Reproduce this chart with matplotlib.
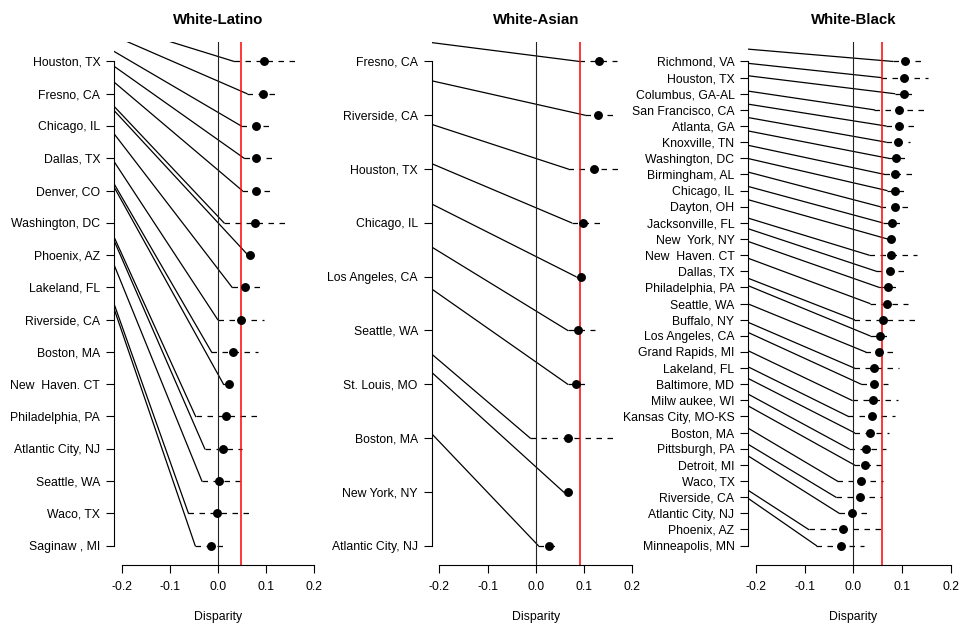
import numpy as np
import matplotlib
matplotlib.use("Agg")
import matplotlib.pyplot as plt

plt.rcParams['font.family'] = ['Liberation Sans', 'DejaVu Sans']

# White-Latino
latino_cities = ["Houston, TX", "Fresno, CA", "Chicago, IL", "Dallas, TX", "Denver, CO",
                 "Washington, DC", "Phoenix, AZ", "Lakeland, FL", "Riverside, CA", "Boston, MA",
                 "New  Haven. CT", "Philadelphia, PA", "Atlantic City, NJ", "Seattle, WA",
                 "Waco, TX", "Saginaw , MI"]
latino_est = [0.096, 0.095, 0.080, 0.080, 0.080, 0.078, 0.068, 0.057, 0.049, 0.032,
              0.023, 0.017, 0.012, 0.003, -0.001, -0.014]
latino_lo = [0.034, 0.061, 0.049, 0.055, 0.051, 0.013, 0.063, 0.030, 0.000, -0.013,
             0.012, -0.046, -0.027, -0.033, -0.061, -0.047]
latino_hi = [0.168, 0.120, 0.110, 0.113, 0.113, 0.146, 0.075, 0.088, 0.096, 0.083,
             0.030, 0.089, 0.051, 0.046, 0.074, 0.010]
latino_start = [-1.15, -0.79, -0.31, 0.15, 0.64, 1.39, 1.52, 2.24, 3.10, 3.79,
                3.89, 5.44, 5.55, 6.30, 7.51, 7.66]
latino_mean = 0.048

# White-Asian
asian_cities = ["Fresno, CA", "Riverside, CA", "Houston, TX", "Chicago, IL", "Los Angeles, CA",
                "Seattle, WA", "St. Louis, MO", "Boston, MA", "New York, NY", "Atlantic City, NJ"]
asian_est = [0.131, 0.129, 0.120, 0.098, 0.093, 0.088, 0.084, 0.067, 0.067, 0.027]
asian_lo = [0.090, 0.102, 0.067, 0.074, 0.083, 0.066, 0.066, -0.012, 0.057, 0.005]
asian_hi = [0.169, 0.159, 0.181, 0.134, 0.098, 0.122, 0.104, 0.160, 0.072, 0.045]
asian_start = [-0.35, 0.36, 1.17, 1.90, 2.65, 3.45, 4.23, 5.44, 5.78, 6.92]
asian_mean = 0.092

# White-Black
black_cities = ["Richmond, VA", "Houston, TX", "Columbus, GA-AL", "San Francisco, CA",
                "Atlanta, GA", "Knoxville, TN", "Washington, DC", "Birmingham, AL",
                "Chicago, IL", "Dayton, OH", "Jacksonville, FL", "New  York, NY",
                "New  Haven. CT", "Dallas, TX", "Philadelphia, PA", "Seattle, WA",
                "Buffalo, NY", "Los Angeles, CA", "Grand Rapids, MI", "Lakeland, FL",
                "Baltimore, MD", "Milw aukee, WI", "Kansas City, MO-KS", "Boston, MA",
                "Pittsburgh, PA", "Detroit, MI", "Waco, TX", "Riverside, CA",
                "Atlantic City, NJ", "Phoenix, AZ", "Minneapolis, MN"]
black_est = [0.107, 0.105, 0.105, 0.094, 0.094, 0.092, 0.088, 0.086, 0.086, 0.086,
             0.080, 0.078, 0.078, 0.076, 0.072, 0.070, 0.060, 0.055, 0.053, 0.043,
             0.043, 0.040, 0.038, 0.034, 0.027, 0.025, 0.016, 0.014, -0.003, -0.022,
             -0.025]
black_lo = [0.081, 0.057, 0.085, 0.043, 0.067, 0.067, 0.072, 0.064, 0.069, 0.055,
            0.060, 0.070, 0.032, 0.047, 0.053, 0.034, 0.002, 0.034, 0.025, 0.002,
            0.016, -0.003, -0.010, 0.002, -0.009, 0.002, -0.033, -0.036, -0.029,
            -0.092, -0.076]
black_hi = [0.140, 0.154, 0.124, 0.145, 0.128, 0.116, 0.109, 0.121, 0.107, 0.112,
            0.095, 0.092, 0.130, 0.105, 0.088, 0.112, 0.131, 0.071, 0.081, 0.094,
            0.071, 0.092, 0.085, 0.074, 0.068, 0.059, 0.062, 0.059, 0.028, 0.059,
            0.021]
black_start = [-0.76, 0.12, 0.89, 1.84, 2.65, 3.48, 4.31, 5.20, 6.02, 6.86,
               7.75, 8.57, 9.71, 10.37, 11.16, 12.20, 13.44, 13.90, 15.03, 16.17,
               16.80, 17.93, 18.93, 19.65, 20.62, 21.35, 22.73, 23.73, 24.45, 26.58,
               27.08]
black_mean = 0.059

xticks = [-0.2, -0.1, 0.0, 0.1, 0.2]
xticklabels = ["-0.2", "-0.1", "0.0", "0.1", "0.2"]
XLIM = (-0.216, 0.216)


def draw_panel(ax, title, cities, est, lo, hi, start, mean):
    n = len(cities)
    y = np.arange(n)
    pad = 0.04 * (n - 1)
    ax.set_xlim(XLIM)
    ax.set_ylim(n - 1 + pad, -pad)

    # slanted connectors + dashed intervals
    for i in range(n):
        ax.plot([XLIM[0], lo[i]], [start[i], y[i]], color='black', lw=0.9)
        ax.plot([lo[i], hi[i]], [y[i], y[i]], color='black', lw=0.9, dashes=(4.4, 4.4))

    ax.axvline(0, color='#222222', lw=0.8)
    ax.axvline(mean, color='red', lw=1.1)
    ax.plot(est, y, 'o', color='black', ms=5.4, zorder=5)

    ax.set_yticks(y)
    ax.set_yticklabels(cities, fontsize=8.8)
    ax.set_xticks(xticks)
    ax.set_xticklabels(xticklabels, fontsize=8.8)
    ax.tick_params(axis='y', length=5.5, width=0.8, pad=4.5)
    ax.tick_params(axis='x', length=5.5, width=0.8, pad=6)
    for s in ['top', 'right']:
        ax.spines[s].set_visible(False)
    ax.spines['left'].set_bounds(0, n - 1)
    ax.spines['bottom'].set_bounds(-0.2, 0.2)
    ax.spines['left'].set_linewidth(0.8)
    ax.spines['bottom'].set_linewidth(0.8)
    ax.set_xlabel("Disparity", fontsize=8.8, labelpad=13)
    ax.set_title(title, fontweight='bold', fontsize=10.8, pad=13)


fig = plt.figure(figsize=(9.6, 6.24), dpi=100)
ax1 = fig.add_axes([0.1188, 0.0946, 0.216, 0.838])
ax2 = fig.add_axes([0.4497, 0.0946, 0.217, 0.838])
ax3 = fig.add_axes([0.7795, 0.0946, 0.2188, 0.838])

draw_panel(ax1, "White-Latino", latino_cities, latino_est, latino_lo, latino_hi,
           latino_start, latino_mean)
draw_panel(ax2, "White-Asian", asian_cities, asian_est, asian_lo, asian_hi,
           asian_start, asian_mean)
draw_panel(ax3, "White-Black", black_cities, black_est, black_lo, black_hi,
           black_start, black_mean)

fig.savefig("out.png", dpi=100)
